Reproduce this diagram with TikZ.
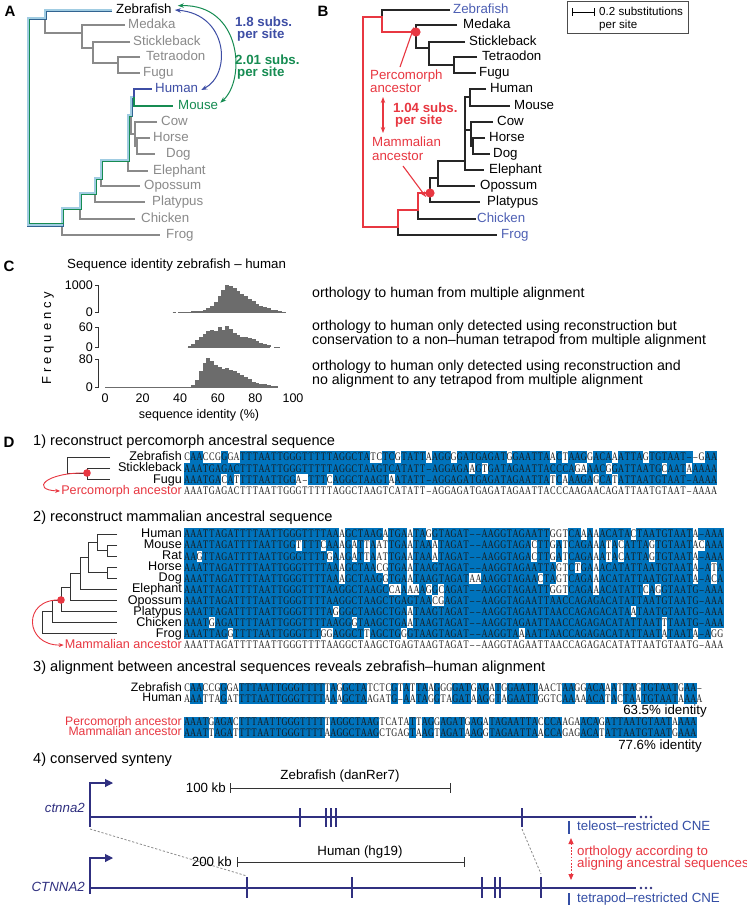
\documentclass[tikz,border=0pt]{standalone}
\usepackage{fontspec}
\setmainfont{Liberation Sans}
\newfontfamily\seqfont[FakeStretch=0.72]{Liberation Serif}
\usetikzlibrary{arrows.meta}
\definecolor{tgray}{RGB}{138,138,138}
\definecolor{tblue}{RGB}{62,78,165}
\definecolor{lblue}{RGB}{78,96,180}
\definecolor{tgreen}{RGB}{22,140,82}
\definecolor{tred}{RGB}{232,55,65}
\definecolor{navy}{RGB}{48,48,128}
\definecolor{seqblue}{RGB}{0,115,188}
\definecolor{histgray}{RGB}{108,108,108}
\definecolor{cnebl}{RGB}{52,78,165}
\definecolor{hlin}{RGB}{160,204,226}
\definecolor{hlout}{RGB}{50,100,145}

\newcommand\sqp{6.2}
\newcommand\seqbox[4]{\fill[seqblue] ({#1+(#3-1)*\sqp-0.25},{#2-#4/2}) rectangle ({#1+#3*\sqp+0.25},{#2+#4/2});}
\newcommand\seqchr[4]{\node[seqtxt] at ({#1+(#3-0.5)*\sqp},{#2}) {#4};}

\ExplSyntaxOn
\tl_new:N \l__sq_a_tl
\tl_new:N \l__sq_b_tl
\NewDocumentCommand \seqrow { m m m m m }
  {
    \int_step_inline:nn { \str_count:n {#3} }
      {
        \tl_set:Nx \l__sq_a_tl { \str_item:nn {#3} {##1} }
        \tl_set:Nx \l__sq_b_tl { \str_item:nn {#4} {##1} }
        \tl_if_eq:NNT \l__sq_a_tl \l__sq_b_tl
          { \seqbox {#1} {#2} {##1} {#5} }
      }
    \int_step_inline:nn { \str_count:n {#3} }
      {
        \tl_set:Nx \l__sq_a_tl { \str_item:nn {#3} {##1} }
        \str_if_eq:VnT \l__sq_a_tl { - } { \tl_set:Nn \l__sq_a_tl { \textendash } }
        \seqchr {#1} {#2} {##1} { \l__sq_a_tl }
      }
  }
\ExplSyntaxOff

\tikzset{
  lab/.style={inner sep=0pt, font=\fontsize{13.3}{14}\selectfont, text height=9.6pt, text depth=2.6pt},
  head/.style={inner sep=0pt, anchor=west, font=\fontsize{14.6}{15}\selectfont, text height=10.5pt, text depth=3pt},
  panel/.style={inner sep=0pt, font=\bfseries\fontsize{15}{15}\selectfont},
  treeA/.style={tgray, line width=1.1pt},
  treeB/.style={black!85, line width=1.1pt},
  treeD/.style={black!80, line width=1pt},
  hlpath/.style={draw=hlout, double=hlin, line width=0.8pt, double distance=1.4pt},
  seqtxt/.style={inner sep=0pt, font=\seqfont\fontsize{11.5}{11.5}\selectfont, text height=7.6pt, text depth=0pt, text=black!90},
  ctxt/.style={inner sep=0pt, anchor=west, font=\fontsize{14.2}{14.2}\selectfont, text height=10pt, text depth=3pt},
  tick/.style={inner sep=0pt, font=\fontsize{12.5}{12.5}\selectfont, text height=9pt, text depth=0pt},
  gtxt/.style={inner sep=0pt, font=\fontsize{13.3}{14}\selectfont, text height=9.6pt, text depth=2.6pt},
  stxt/.style={inner sep=0pt, font=\fontsize{12.6}{12.6}\selectfont, text height=8.6pt, text depth=1.8pt},
  s3txt/.style={inner sep=0pt, font=\fontsize{12.2}{12.2}\selectfont, text height=8.3pt, text depth=1.7pt},
  stip/.style={-{Stealth[length=6pt,width=4.5pt]}},
  dstip/.style={{Stealth[length=6pt,width=4.5pt]}-{Stealth[length=6pt,width=4.5pt]}},
}

\begin{document}
\begin{tikzpicture}[x=1pt,y=-1pt]
\fill[white] (0,0) rectangle (747,906);
\useasboundingbox (0,0) rectangle (747,906);

% ================= Panel A =================
\node[panel] (pA) at (10,11) {A};
\begin{scope}[treeA]
 \draw (45,18)--(45,33)--(82,33);
 \draw (125,25)--(82,25)--(82,48)--(93,48);
 \draw (130,42)--(93,42)--(93,63)--(118,63);
 \draw (140,57)--(118,57)--(118,73)--(140,73);
 \draw (62,225)--(62,235)--(160,235);
 \draw (80,208)--(80,219)--(135,219);
 \draw (95,193)--(95,202)--(145,202);
 \draw (101,178)--(101,186)--(140,186);
 \draw (128,160)--(128,171)--(148,171);
 \draw (131,115)--(131,134)--(135,134);
 \draw (157,122)--(135,122)--(135,146)--(137,146);
 \draw (150,138)--(137,138)--(137,154)--(155,154);
\end{scope}
\draw[hlpath] (112,10)--(45,10)--(45,18)--(28,18)--(28,225)--(62,225)--(62,208)--(80,208)--(80,193)--(95,193)--(95,178)--(101,178)--(101,160)--(128,160)--(128,115)--(131,115)--(131,97)--(134,97);
\draw[tgreen, line width=0.6pt] (29.4,19.4)--(29.4,223.6)--(63.4,223.6)--(63.4,209.4)--(81.4,209.4)--(81.4,194.4)--(96.4,194.4)--(96.4,179.4)--(102.4,179.4)--(102.4,161.4)--(129.4,161.4)--(129.4,116.4)--(132.4,116.4);
\draw[tblue, line width=1.1pt] (134,97)--(134,89)--(152,89);
\draw[tgreen, line width=1.1pt] (134,97)--(134,106)--(173,106);
\foreach \n/\x/\y/\c in {Zebrafish/116/10/black, Medaka/128/25/tgray, Stickleback/133/42/tgray, Tetraodon/146/57/tgray, Fugu/143/73/tgray, Human/155/89/tblue, Mouse/178/106/tgreen, Cow/161/122/tgray, Horse/153/138/tgray, Dog/166/154/tgray, Elephant/153/171/tgray, Opossum/144/186/tgray, Platypus/152/202/tgray, Chicken/141/219/tgray, Frog/166/235/tgray}
  \node[lab, anchor=west, text=\c] (a\n) at (\x,\y) {\n};
\draw[tblue, line width=1pt, dstip] ([xshift=3pt]aZebrafish.east) .. controls (228,14) and (232,74) .. ([xshift=3pt,yshift=-1pt]aHuman.east);
\draw[tgreen, line width=1pt, dstip] ([xshift=6pt,yshift=-2pt]aZebrafish.north east) .. controls (242,4) and (246,80) .. ([xshift=2pt,yshift=-3pt]aMouse.north east);
\node[lab, anchor=west, text=tblue, font=\bfseries\fontsize{13.3}{14}\selectfont] (a18a) at (235,23) {1.8 subs.};
\node[lab, anchor=west, text=tblue, font=\bfseries\fontsize{13.3}{14}\selectfont] (a18b) at (237,35) {per site};
\node[lab, anchor=west, text=tgreen, font=\bfseries\fontsize{13.3}{14}\selectfont] (a20a) at (235,61) {2.01 subs.};
\node[lab, anchor=west, text=tgreen, font=\bfseries\fontsize{13.3}{14}\selectfont] (a20b) at (237,73) {per site};

% ================= Panel B =================
\node[panel] (pB) at (323,11) {B};
\begin{scope}[treeB]
 \draw (382,17)--(382,10)--(450,10);
 \draw (457,25)--(416,25)--(416,48)--(429,48);
 \draw (465,42)--(429,42)--(429,65)--(454,65);
 \draw (477,57)--(454,57)--(454,73)--(476,73);
 \draw (398,227)--(398,235)--(497,235);
 \draw (418,210)--(418,219)--(476,219);
 \draw (430,193)--(430,202)--(480,202);
 \draw (430,193)--(430,178)--(438,178);
 \draw (465,161)--(438,161)--(438,186)--(475,186);
 \draw (470,97)--(465,97)--(465,170)--(484,170);
 \draw (486,89)--(470,89)--(470,106)--(510,106);
 \draw (465,130)--(471,130);
 \draw (493,122)--(471,122)--(471,146)--(473,146);
 \draw (485,138)--(473,138)--(473,154)--(490,154);
\end{scope}
\draw[tred, line width=1.4pt] (416,32)--(382,32)--(382,17)--(363,17)--(363,227)--(398,227)--(398,210)--(418,210)--(418,193)--(430,193);
\fill[tred] (416,32) circle (4.6);
\fill[tred] (430,193) circle (4.6);
\coordinate (percdot) at (416,32);
\coordinate (mamdot) at (430,193);
\foreach \n/\x/\y/\c in {Zebrafish/453/10/lblue, Medaka/463/25/black, Stickleback/469/42/black, Tetraodon/482/57/black, Fugu/479/73/black, Human/490/89/black, Mouse/514/106/black, Cow/497/122/black, Horse/489/138/black, Dog/493/154/black, Elephant/489/170/black, Opossum/480/186/black, Platypus/487/202/black, Chicken/477/219/lblue, Frog/501/235/lblue}
  \node[lab, anchor=west, text=\c] (b\n) at (\x,\y) {\n};
\node[lab, anchor=west, text=tred] (bperc1) at (370,76) {Percomorph};
\node[lab, anchor=west, text=tred] (bperc2) at (370,89) {ancestor};
\node[lab, anchor=west, text=tred] (bmam1) at (372,143) {Mammalian};
\node[lab, anchor=west, text=tred] (bmam2) at (372,157) {ancestor};
\draw[tred, line width=1.1pt, stip] (400,67) -- ([xshift=-2pt,yshift=5pt]percdot);
\draw[tred, line width=1.1pt, stip] (403,166) -- ([xshift=-4pt,yshift=-4pt]mamdot);
\draw[tred, line width=1.2pt, dstip] (383,97) -- (383,133);
\node[lab, anchor=west, text=tred, font=\bfseries\fontsize{13.3}{14}\selectfont] (b104a) at (393,109) {1.04 subs.};
\node[lab, anchor=west, text=tred, font=\bfseries\fontsize{13.3}{14}\selectfont] (b104b) at (395,121) {per site};
\draw[black!70, line width=0.9pt] (567,1) rectangle (688,33);
\draw[black, line width=1pt] (572,8)--(572,16) (572,12)--(594,12) (594,8)--(594,16);
\node[inner sep=0pt, anchor=west, font=\fontsize{11.6}{12}\selectfont, text height=8.4pt, text depth=2.4pt] (bs1) at (599,12) {0.2 substitutions};
\node[inner sep=0pt, anchor=west, font=\fontsize{11.6}{12}\selectfont, text height=8.4pt, text depth=2.4pt] (bs2) at (599,25) {per site};

% ================= Panel C =================
\node[panel] (pC) at (9,266) {C};
\node[lab, anchor=west] (ctitle) at (67,265) {Sequence identity zebrafish -- human};
\node[rotate=90, inner sep=0pt, font=\fontsize{13}{13}\selectfont\addfontfeature{LetterSpace=30}] (cfreq) at (48,338) {Frequency};
\draw[black!80, line width=0.9pt] (95,285)--(98,285)--(98,312)--(95,312);
\draw[black!80, line width=0.9pt] (95,327)--(98,327)--(98,347)--(95,347);
\draw[black!80, line width=0.9pt] (95,359)--(98,359)--(98,387)--(95,387);
\foreach \t/\y in {1000/285, 0/312, 60/327, 0/347, 80/359, 0/387}
  \node[tick, anchor=east] at (93,\y) {\t};
\foreach \p in {0,20,40,60,80,100}
  \node[tick, anchor=north] at ({105+1.88*\p},393) {\p};
\node[tick, anchor=north] (cxl) at (199,409) {sequence identity (\%)};
\draw[histgray, line width=0.8pt] ({105+1.88*36},312)--({105+1.88*37.5},312) ({105+1.88*39},312)--({105+1.88*96},312);
\foreach \p/\v in {40/8,42/10,44/15,46/20,48/30,50/50,52/80,54/130,56/220,58/380,60/600,62/820,64/1000,66/960,68/880,70/780,72/680,74/580,76/480,78/390,80/310,82/240,84/180,86/130,88/90,90/60,92/35,94/15}
  \fill[histgray] ({105+1.88*\p-0.1},312) rectangle ({105+1.88*(\p+2)+0.1},{312-\v*0.027});
\draw[histgray, line width=0.8pt] ({105+1.88*44},347)--({105+1.88*88},347) ({105+1.88*90},347)--({105+1.88*93},347);
\foreach \p/\v in {44/2,46/10,48/20,50/30,52/40,54/48,56/50,58/47,60/60,62/50,64/62,66/55,68/42,70/35,72/30,74/30,76/28,78/25,80/18,82/12,84/8,86/5}
  \fill[histgray] ({105+1.88*\p-0.1},347) rectangle ({105+1.88*(\p+2)+0.1},{347-\v*0.3333});
\draw[histgray, line width=0.8pt] ({105+1.88*0},387)--({105+1.88*92},387);
\foreach \p/\v in {46/5,48/20,50/45,52/70,54/82,56/75,58/62,60/57,62/52,64/55,66/50,68/47,70/40,72/35,74/28,76/22,78/15,80/12,82/10,84/8,86/6,88/4,90/2}
  \fill[histgray] ({105+1.88*\p-0.1},387) rectangle ({105+1.88*(\p+2)+0.1},{387-\v*0.35});
\node[ctxt] (c1) at (312,294) {orthology to human from multiple alignment};
\node[ctxt] (c2a) at (312,327) {orthology to human only detected using reconstruction but};
\node[ctxt] (c2b) at (312,341) {conservation to a non--human tetrapod from multiple alignment};
\node[ctxt] (c3a) at (312,367) {orthology to human only detected using reconstruction and};
\node[ctxt] (c3b) at (312,381) {no alignment to any tetrapod from multiple alignment};

% ================= Panel D =================
\node[panel] (pD) at (9,442) {D};
\node[head] (h1) at (33,442) {1) reconstruct percomorph ancestral sequence};
\begin{scope}[treeD]
 \draw (110,457)--(67,457)--(67,473)--(87,473);
 \draw (110,468.3)--(87,468.3)--(87,479.6)--(110,479.6);
\end{scope}
\fill[tred] (87,473) circle (3.8);
\coordinate (pdot) at (87,473);
\node[stxt, anchor=east] (s1z) at (182,457) {Zebrafish};
\node[stxt, anchor=east] (s1s) at (182,468.3) {Stickleback};
\node[stxt, anchor=east] (s1f) at (182,479.6) {Fugu};
\node[stxt, anchor=east, text=tred] (s1p) at (182,491) {Percomorph ancestor};
\draw[tred, line width=0.9pt, -{Stealth[length=5pt,width=4pt]}] (pdot) .. controls (45,472) and (30,490) .. ([xshift=-1pt]s1p.west);
\seqrow{184}{457}{CAACCGGGATTTAATTGGGTTTTTAGGCTATCTCGTATTAAGGGGATGAGATGGAATTAACTAAGGACAAATTAGTGTAAT--GAA}{AAATGAGACTTTAATTGGGTTTTTAGGCTAAGTCATATT-AGGAGATGAGATAGAATTACCCAAGAACAGATTAATGTAAT-AAAA}{11.3}
\seqrow{184}{468.3}{AAATGAGACTTTAATTGGGTTTTTAGGCTAAGTCATATT-AGGAGAAGTGATAGAATTACCCAGAAACGGATTAATGCAATAAAAA}{AAATGAGACTTTAATTGGGTTTTTAGGCTAAGTCATATT-AGGAGATGAGATAGAATTACCCAAGAACAGATTAATGTAAT-AAAA}{11.3}
\seqrow{184}{479.6}{AAATGACATTTTAATTGGA-TTTCAGGCTAAGTAATATT-AGGAGATGAGATAGAATTATCAAAGAGCATATTAATGTAAT-AAAA}{AAATGAGACTTTAATTGGGTTTTTAGGCTAAGTCATATT-AGGAGATGAGATAGAATTACCCAAGAACAGATTAATGTAAT-AAAA}{11.3}
\seqrow{184}{491}{AAATGAGACTTTAATTGGGTTTTTAGGCTAAGTCATATT-AGGAGATGAGATAGAATTACCCAAGAACAGATTAATGTAAT-AAAA}{}{11.3}

\node[head] (h2) at (33,518) {2) reconstruct mammalian ancestral sequence};
\begin{scope}[treeD]
 \draw (117,545.1)--(107,545.1)--(107,556.2)--(117,556.2);
 \draw (117,534)--(97,534)--(97,550.6)--(107,550.6);
 \draw (117,567.3)--(107,567.3)--(107,578.4)--(117,578.4);
 \draw (97,542)--(88,542)--(88,572.8)--(107,572.8);
 \draw (88,557)--(80,557)--(80,589.5)--(117,589.5);
 \draw (80,573)--(70,573)--(70,600.6)--(117,600.6);
 \draw (70,587)--(61,587)--(61,611.7)--(117,611.7);
 \draw (61,600)--(52,600)--(52,622.8)--(117,622.8);
 \draw (52,611)--(42,611)--(42,633.9)--(117,633.9);
\end{scope}
\fill[tred] (61,600) circle (3.8);
\coordinate (mdot) at (61,600);
\foreach \n/\y in {Human/534, Mouse/545.1, Rat/556.2, Horse/567.3, Dog/578.4, Elephant/589.5, Opossum/600.6, Platypus/611.7, Chicken/622.8, Frog/633.9}
  \node[stxt, anchor=east] (s2\n) at (182,\y) {\n};
\node[stxt, anchor=east, text=tred] (s2m) at (182,645) {Mammalian ancestor};
\draw[tred, line width=0.9pt, -{Stealth[length=5pt,width=4pt]}] (mdot) .. controls (22,598) and (24,646) .. ([xshift=-1pt]s2m.west);
\seqrow{184}{534}{AAATTAGATTTTAATTGGGTTTTAAAGCTAAGATGAATAGGTAGAT--AAGGTAGAATTGGTCAAAAACATACTAATGTAATA-AAA}{AAATTAGATTTTAATTGGGTTTTAAGGCTAAGCTGAGTAAGTAGAT--AAGGTAGAATTAACCAGAGACATATTAATGTAATG-AAA}{11.1}
\seqrow{184}{545.1}{AAATTAGATTTTAATTGGTTTTCAAAGATTAATTGAATAAATAGAT--AAGGTAGACTTGATCAGAAATACATTAGTGTAATACAAA}{AAATTAGATTTTAATTGGGTTTTAAGGCTAAGCTGAGTAAGTAGAT--AAGGTAGAATTAACCAGAGACATATTAATGTAATG-AAA}{11.1}
\seqrow{184}{556.2}{AAGTTAGATTTTAATTGGGTTTTGAAGATTAATTGAATAAATAGAT--AAGGTAGACTTGATCAGAAATACATTAGTGTAATA-AAA}{AAATTAGATTTTAATTGGGTTTTAAGGCTAAGCTGAGTAAGTAGAT--AAGGTAGAATTAACCAGAGACATATTAATGTAATG-AAA}{11.1}
\seqrow{184}{567.3}{AAATTAGATTTTAATTGGGTTTTAAAGCTAACGTGAATAAGTAGAT--AAGGTAGAATTAGTCTGAAACATATTAATGTAATA-ATA}{AAATTAGATTTTAATTGGGTTTTAAGGCTAAGCTGAGTAAGTAGAT--AAGGTAGAATTAACCAGAGACATATTAATGTAATG-AAA}{11.1}
\seqrow{184}{578.4}{AAATTAGATTTTAATTGGGTTTTAAAGCTAAGGTGAATAAGTAGATAAAAGGTAGAACTAGTCAGAAACATATTAATGTAATA-ACA}{AAATTAGATTTTAATTGGGTTTTAAGGCTAAGCTGAGTAAGTAGAT--AAGGTAGAATTAACCAGAGACATATTAATGTAATG-AAA}{11.1}
\seqrow{184}{589.5}{AAATTAGATTTTAATTGGGTTTTAAGGCTAAGCCAAAAAGGCAGAT--AAGGTAGAATTGGTCAGAAACATATTCAGGTAATG-AAA}{AAATTAGATTTTAATTGGGTTTTAAGGCTAAGCTGAGTAAGTAGAT--AAGGTAGAATTAACCAGAGACATATTAATGTAATG-AAA}{11.1}
\seqrow{184}{600.6}{AAATTAGATTTTAATTGGGTTTTAAGGCTAAGCTGAGTAACGAGAT--AAGGTAGAATTAACCAGAGACATATTAATGTAATG-AAA}{AAATTAGATTTTAATTGGGTTTTAAGGCTAAGCTGAGTAAGTAGAT--AAGGTAGAATTAACCAGAGACATATTAATGTAATG-AAA}{11.1}
\seqrow{184}{611.7}{AAATTAGATTTTAATTGGGTTTTAGGGCTAAGCTGAATAAGTAGAT--AAGGTAGAATTAACCAGAGACATAATAATGTAATG-AAA}{AAATTAGATTTTAATTGGGTTTTAAGGCTAAGCTGAGTAAGTAGAT--AAGGTAGAATTAACCAGAGACATATTAATGTAATG-AAA}{11.1}
\seqrow{184}{622.8}{AAATGAGATTTTAATTGGGTTTTAAGGGTAAGCTGAATAAGTAGAT--AAGGTAGAATTAACCAGAGACATATTAATTTAATG-AAA}{AAATTAGATTTTAATTGGGTTTTAAGGCTAAGCTGAGTAAGTAGAT--AAGGTAGAATTAACCAGAGACATATTAATGTAATG-AAA}{11.1}
\seqrow{184}{633.9}{AAATTAGGTTTTAATTGGGTTTGGAGGCTTAGCTGGGTAAGTAGAT--AAGGTAAAATTAACCAGAGACATATTAATATAATA-AGG}{AAATTAGATTTTAATTGGGTTTTAAGGCTAAGCTGAGTAAGTAGAT--AAGGTAGAATTAACCAGAGACATATTAATGTAATG-AAA}{11.1}
\seqrow{184}{645}{AAATTAGATTTTAATTGGGTTTTAAGGCTAAGCTGAGTAAGTAGAT--AAGGTAGAATTAACCAGAGACATATTAATGTAATG-AAA}{}{11.1}

\node[head] (h3) at (33,668) {3) alignment between ancestral sequences reveals zebrafish--human alignment};
\renewcommand\sqp{6.1}
\node[s3txt, anchor=east] (s3z) at (182,688) {Zebrafish};
\node[s3txt, anchor=east] (s3h) at (182,698.5) {Human};
\node[s3txt, anchor=east, text=tred] (s3p) at (182,722) {Percomorph ancestor};
\node[s3txt, anchor=east, text=tred] (s3m) at (182,732.5) {Mammalian ancestor};
\seqrow{184}{688}{CAACCGGGATTTAATTGGGTTTTTAGGCTATCTCGTATTAAGGGGATGAGATGGAATTAACTAAGGACAAATTAGTGTAATGAA-}{AAATTAGATTTTAATTGGGTTTTAAAGCTAAGATG-AATAGGTAGATAAGGTAGAATTGGTCAAAAACATACTAATGTAATAAAA}{10.5}
\seqrow{184}{698.5}{AAATTAGATTTTAATTGGGTTTTAAAGCTAAGATG-AATAGGTAGATAAGGTAGAATTGGTCAAAAACATACTAATGTAATAAAA}{CAACCGGGATTTAATTGGGTTTTTAGGCTATCTCGTATTAAGGGGATGAGATGGAATTAACTAAGGACAAATTAGTGTAATGAA-}{10.5}
\seqrow{184}{722}{AAATGAGACTTTAATTGGGTTTTTAGGCTAAGTCATATTAGGAGATGAGATAGAATTACCCAAGAACAGATTAATGTAATAAAA}{AAATTAGATTTTAATTGGGTTTTAAGGCTAAGCTGAGTAAGTAGATAAGGTAGAATTAACCAGAGACATATTAATGTAATGAAA}{10.5}
\seqrow{184}{732.5}{AAATTAGATTTTAATTGGGTTTTAAGGCTAAGCTGAGTAAGTAGATAAGGTAGAATTAACCAGAGACATATTAATGTAATGAAA}{AAATGAGACTTTAATTGGGTTTTTAGGCTAAGTCATATTAGGAGATGAGATAGAATTACCCAAGAACAGATTAATGTAATAAAA}{10.5}
\node[gtxt, anchor=east] (id1) at (707,711) {63.5\% identity};
\node[gtxt, anchor=east] (id2) at (702,745.5) {77.6\% identity};

% ---- 4) synteny
\node[head] (h4) at (33,760) {4) conserved synteny};
\node[gtxt] (zlab) at (340,776) {Zebrafish (danRer7)};
\node[gtxt, anchor=east] (z100) at (226,789) {100 kb};
\draw[black!80, line width=0.9pt] (230,783)--(230,793) (230,788)--(450,788) (450,783)--(450,793);
\draw[navy, line width=1.1pt, -{Triangle[length=8pt,width=8pt]}] (90,817)--(90,783)--(113,783);
\draw[navy, line width=1.1pt] (90,817)--(90,827);
\draw[navy, line width=1.1pt] (90,817)--(636,817);
\foreach \x in {641,646,651} \fill[navy] (\x,817) circle (1.4);
\foreach \x in {300,326,331,336,522} \draw[navy, line width=1.1pt] (\x,808)--(\x,827);
\node[gtxt, anchor=east, text=navy, font=\itshape\fontsize{13.3}{14}\selectfont] (zg) at (85,809) {ctnna2};
\draw[cnebl, line width=2.6pt] (569,821)--(569,834);
\node[gtxt, anchor=west, text=cnebl] (tcne) at (577,827) {teleost--restricted CNE};

\draw[black!45, line width=0.8pt, dash pattern=on 2.2pt off 1.8pt] (90,829)--(247,876);
\draw[black!45, line width=0.8pt, dash pattern=on 2.2pt off 1.8pt] (522,829)--(541,874);

\node[gtxt] (hlab) at (360,852) {Human (hg19)};
\node[gtxt, anchor=east] (h200) at (232,863) {200 kb};
\draw[black!80, line width=0.9pt] (237,857)--(237,867) (237,862)--(464,862) (464,857)--(464,867);
\draw[navy, line width=1.1pt, -{Triangle[length=8pt,width=8pt]}] (90,888)--(90,858)--(113,858);
\draw[navy, line width=1.1pt] (90,883)--(90,894);
\draw[navy, line width=1.1pt] (90,888)--(636,888);
\foreach \x in {641,646,651} \fill[navy] (\x,888) circle (1.4);
\foreach \x in {247,352,482,495,500,541} \draw[navy, line width=1.1pt] (\x,877)--(\x,898);
\node[gtxt, anchor=east, text=navy, font=\itshape\fontsize{13.3}{14}\selectfont] (hg) at (85,888) {CTNNA2};
\draw[cnebl, line width=2.6pt] (569,893)--(569,905);
\node[gtxt, anchor=west, text=cnebl] (tpcne) at (577,899) {tetrapod--restricted CNE};

\draw[tred, line width=1pt, dash pattern=on 1.6pt off 1.6pt, {Triangle[length=6pt,width=5pt]}-{Triangle[length=6pt,width=5pt]}] (571,838)--(571,880);
\node[gtxt, anchor=west, text=tred] (or1) at (577,852) {orthology according to};
\node[gtxt, anchor=west, text=tred] (or2) at (577,864) {aligning ancestral sequences};
\end{tikzpicture}
\end{document}
